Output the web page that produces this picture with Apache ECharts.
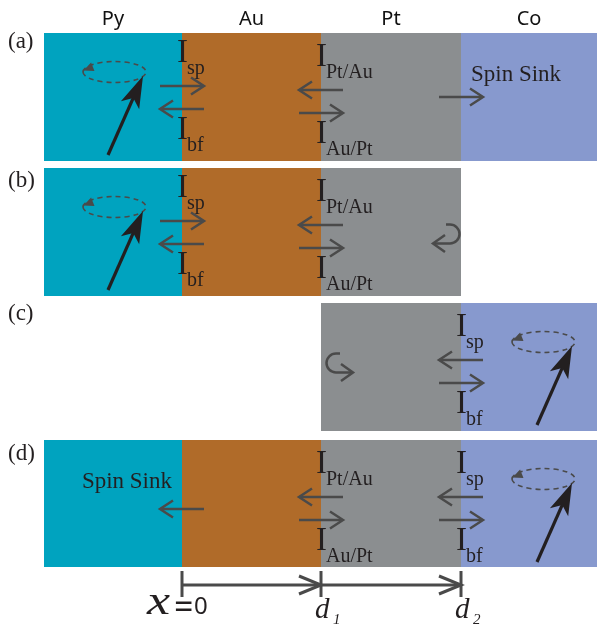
<!DOCTYPE html>
<html><head><meta charset="utf-8">
<script src="https://cdn.jsdelivr.net/npm/echarts@6/dist/echarts.min.js"></script>
<style>html,body{margin:0;padding:0;background:#fff}#c{width:597px;height:627px}</style>
</head><body><div id="c"></div>
<script>
// ---------------- data (diagram units = axis values) ----------------
const layerNames = ['Py', 'Au', 'Pt', 'Co'];
const layerEdges = [44, 182, 321, 461, 597];
const panelNames = ['(a)', '(b)', '(c)', '(d)'];
const panelTops = [33, 168, 303, 440];
const panelBottoms = [161, 296, 431, 567];
const panelLayers = [[0, 1, 2, 3], [0, 1, 2], [2, 3], [0, 1, 2, 3]];
// interface spin currents
const currentPanels = [0, 0, 1, 1, 2, 3, 3];
const currentEdges = [1, 2, 1, 2, 3, 2, 3];
const currentTopSubs = ['sp', 'Pt/Au', 'sp', 'Pt/Au', 'sp', 'Pt/Au', 'sp'];
const currentBottomSubs = ['bf', 'Au/Pt', 'bf', 'Au/Pt', 'bf', 'Au/Pt', 'bf'];
const currentUpperDirs = [1, -1, 1, -1, -1, -1, -1];
const currentShifts = [-4, 0, -4, 0, 0, 0, 0];
// spin sinks
const sinkPanels = [0, 3];
const sinkEdges = [3, 1];
const sinkDirs = [1, -1];
const sinkLevels = [64, 69];
const sinkText = 'Spin Sink';
// reflections (u-turn arrows)
const reflectPanels = [1, 2];
const reflectX = [450, 336];
const reflectLevels = [66, 60];
const reflectDirs = [-1, 1];
// precessing magnetisation
const precessPanels = [0, 1, 2, 3];
const precessX = [114.5, 114.5, 543.5, 543.5];
// length scale
const scaleEdges = [1, 2, 3];
const scaleMain = ['x', 'd', 'd'];
const scaleSub = ['=0', '1', '2'];

// ---------------- styles / layout ----------------
const layerColors = ['#00A3BF', '#B06B29', '#8B8E90', '#8799CE'];
const arrowColor = '#4a4a4a';
const ink = '#231f20';
const SERIF = '"Liberation Serif", "DejaVu Serif", serif';
const SANS = '"Noto Sans", "Open Sans", sans-serif';
const panelLabelOffsets = [9, 13, 11, 14];

const chart = echarts.init(document.getElementById('c'), null, { renderer: 'canvas' });

function arrowEls(api, x1, y1, x2, y2, len, half, color, width) {
  const a = api.coord([x1, y1]), b = api.coord([x2, y2]);
  const dx = b[0] - a[0], dy = b[1] - a[1], d = Math.hypot(dx, dy);
  const ux = dx / d, uy = dy / d, nx = -uy, ny = ux;
  return [
    { type: 'line', shape: { x1: a[0], y1: a[1], x2: b[0] - ux * 1, y2: b[1] - uy * 1 }, style: { stroke: color, lineWidth: width } },
    { type: 'polyline', shape: { points: [[b[0] - len * ux + half * nx, b[1] - len * uy + half * ny], [b[0], b[1]], [b[0] - len * ux - half * nx, b[1] - len * uy - half * ny]] },
      style: { stroke: color, lineWidth: width, fill: 'none', lineJoin: 'miter' } }
  ];
}
function txt(api, x, y, text, font, align, color) {
  const p = api.coord([x, y]);
  return { type: 'text', x: p[0], y: p[1], style: { text: text, font: font, fill: color || ink, align: align || 'left', verticalAlign: 'middle' } };
}

// layers
const layerData = [];
panelLayers.forEach((ls, p) => ls.forEach(l => layerData.push([layerEdges[l], panelTops[p], layerEdges[l + 1], panelBottoms[p], l])));

const option = {
  animation: false,
  grid: { left: 0, right: 0, top: 0, bottom: 0 },
  xAxis: { type: 'value', min: 0, max: 597, show: false },
  yAxis: { type: 'value', min: 0, max: 627, inverse: true, show: false },
  series: [
    { type: 'custom', silent: true, clip: false, data: layerData, encode: { x: 0, y: 1 },
      renderItem: (params, api) => {
        const a = api.coord([api.value(0), api.value(1)]), b = api.coord([api.value(2), api.value(3)]);
        return { type: 'rect', shape: { x: a[0], y: a[1], width: b[0] - a[0], height: b[1] - a[1] },
          style: { fill: layerColors[api.value(4)] } };
      } },
    // layer headers
    { type: 'custom', silent: true, clip: false, data: layerNames.map((n, i) => [(layerEdges[i] + layerEdges[i + 1]) / 2, 19]), encode: { x: 0, y: 1 },
      renderItem: (params, api) => txt(api, api.value(0), api.value(1), layerNames[params.dataIndex], '20px ' + SANS, 'center', '#111') },
    // panel labels
    { type: 'custom', silent: true, clip: false, data: panelNames.map((n, i) => [8, panelTops[i] + panelLabelOffsets[i]]), encode: { x: 0, y: 1 },
      renderItem: (params, api) => txt(api, api.value(0), api.value(1), panelNames[params.dataIndex], '23px ' + SERIF, 'left') },
    // interface current pairs
    { type: 'custom', silent: true, clip: false, data: currentPanels.map((p, i) => [layerEdges[currentEdges[i]], panelTops[p] + currentShifts[i]]), encode: { x: 0, y: 1 },
      renderItem: (params, api) => {
        const i = params.dataIndex, x = api.value(0), t = api.value(1), dir = currentUpperDirs[i];
        const ch = [];
        ch.push(...arrowEls(api, x - dir * 22, t + 57, x + dir * 22, t + 57, 13, 8.5, arrowColor, 2.5));
        ch.push(...arrowEls(api, x + dir * 22, t + 80, x - dir * 22, t + 80, 13, 8.5, arrowColor, 2.5));
        ch.push(txt(api, x - 5, t + 24, 'I', '33px ' + SERIF));
        ch.push(txt(api, x + 5, t + 40, currentTopSubs[i], '20px ' + SERIF));
        ch.push(txt(api, x - 5, t + 101, 'I', '33px ' + SERIF));
        ch.push(txt(api, x + 5, t + 117, currentBottomSubs[i], '20px ' + SERIF));
        return { type: 'group', children: ch };
      } },
    // spin sinks
    { type: 'custom', silent: true, clip: false, data: sinkPanels.map((p, i) => [layerEdges[sinkEdges[i]], panelTops[p]]), encode: { x: 0, y: 1 },
      renderItem: (params, api) => {
        const i = params.dataIndex, x = api.value(0), t = api.value(1), dir = sinkDirs[i];
        const ch = arrowEls(api, x - dir * 22, t + sinkLevels[i], x + dir * 22, t + sinkLevels[i], 13, 8.5, arrowColor, 2.5);
        ch.push(txt(api, x + dir * 10, t + 42, sinkText, '23px ' + SERIF, dir > 0 ? 'left' : 'right'));
        return { type: 'group', children: ch };
      } },
    // reflections
    { type: 'custom', silent: true, clip: false, data: reflectPanels.map((p, i) => [reflectX[i], panelTops[p] + reflectLevels[i]]), encode: { x: 0, y: 1 },
      renderItem: (params, api) => {
        const i = params.dataIndex, dir = reflectDirs[i];
        const c = api.coord([api.value(0), api.value(1)]);
        const r = 9.5;
        const sx = c[0] + dir * 4, tip = c[0] + dir * 17;
        const path = 'M ' + sx + ' ' + (c[1] - r) + ' L ' + c[0] + ' ' + (c[1] - r) +
          ' A ' + r + ' ' + r + ' 0 0 ' + (dir < 0 ? 1 : 0) + ' ' + c[0] + ' ' + (c[1] + r) + ' L ' + tip + ' ' + (c[1] + r);
        return { type: 'group', children: [
          { type: 'path', shape: { pathData: path }, style: { stroke: arrowColor, lineWidth: 2.5, fill: 'none' } },
          { type: 'polyline', shape: { points: [[tip - dir * 12, c[1] + r - 8.5], [tip, c[1] + r], [tip - dir * 12, c[1] + r + 8.5]] },
            style: { stroke: arrowColor, lineWidth: 2.5, fill: 'none' } }
        ] };
      } },
    // precessing magnetisation
    { type: 'custom', silent: true, clip: false, data: precessPanels.map((p, i) => [precessX[i], panelTops[p]]), encode: { x: 0, y: 1 },
      renderItem: (params, api) => {
        const cx = api.value(0), t = api.value(1);
        const c = api.coord([cx, t + 39]);
        const rx = 31.5, ry = 10.5;
        const ell = 'M ' + (c[0] - rx) + ' ' + c[1] + ' A ' + rx + ' ' + ry + ' 0 1 0 ' + (c[0] + rx) + ' ' + c[1] +
          ' A ' + rx + ' ' + ry + ' 0 1 0 ' + (c[0] - rx) + ' ' + c[1] + ' Z';
        // small head on the ellipse, pointing to the left end
        const hx = c[0] - 31, hy = c[1] - 1.5, ux = -0.93, uy = 0.37, nx = -uy, ny = ux;
        const head = [[hx, hy], [hx - 10 * ux + 4.5 * nx, hy - 10 * uy + 4.5 * ny], [hx - 10 * ux - 4.5 * nx, hy - 10 * uy - 4.5 * ny]];
        // magnetisation vector
        const b = api.coord([cx - 6.5, t + 122]), tp = api.coord([cx + 28.5, t + 43]);
        const dx = tp[0] - b[0], dy = tp[1] - b[1], d = Math.hypot(dx, dy);
        const vx = dx / d, vy = dy / d, wx = -vy, wy = vx;
        const L = 32, Hh = 10, notch = 8;
        const mh = [[tp[0], tp[1]],
          [tp[0] - L * vx + Hh * wx, tp[1] - L * vy + Hh * wy],
          [tp[0] - (L - notch) * vx, tp[1] - (L - notch) * vy],
          [tp[0] - L * vx - Hh * wx, tp[1] - L * vy - Hh * wy]];
        return { type: 'group', children: [
          { type: 'path', shape: { pathData: ell }, style: { stroke: arrowColor, lineWidth: 1.6, fill: 'none', lineDash: [5, 4] } },
          { type: 'polygon', shape: { points: head }, style: { fill: arrowColor } },
          { type: 'line', shape: { x1: b[0], y1: b[1], x2: tp[0] - (L - notch) * vx, y2: tp[1] - (L - notch) * vy }, style: { stroke: ink, lineWidth: 3.2 } },
          { type: 'polygon', shape: { points: mh }, style: { fill: ink } }
        ] };
      } },
    // length scale
    { type: 'custom', silent: true, clip: false, data: scaleEdges.map(e => [layerEdges[e], 585]), encode: { x: 0, y: 1 },
      renderItem: (params, api) => {
        const i = params.dataIndex, x = api.value(0), y = api.value(1);
        const a = api.coord([x, 571]), b = api.coord([x, 597]);
        const ch = [{ type: 'line', shape: { x1: a[0], y1: a[1], x2: b[0], y2: b[1] }, style: { stroke: arrowColor, lineWidth: 3 } }];
        if (i > 0) ch.push(...arrowEls(api, layerEdges[scaleEdges[i - 1]], y, x, y, 22, 9, arrowColor, 3));
        if (i === 0) {
          const xm = txt(api, x - 35, 603, scaleMain[i], 'italic 40px ' + SERIF, 'left');
          xm.scaleX = 1.3; xm.originX = 0; xm.originY = 0;
          ch.push(xm);
          ch.push(txt(api, x - 8, 609, scaleSub[i].charAt(0), '34px ' + SANS, 'left'));
          ch.push(txt(api, x + 12, 607, scaleSub[i].charAt(1), '24px ' + SANS, 'left'));
        } else {
          ch.push(txt(api, x - 6, 610, scaleMain[i], 'italic 29px ' + SERIF, 'left'));
          ch.push(txt(api, x + 12, 620, scaleSub[i], 'italic 15px ' + SERIF, 'left'));
        }
        return { type: 'group', children: ch };
      } }
  ]
};
chart.setOption(option);
</script>
</body></html>
